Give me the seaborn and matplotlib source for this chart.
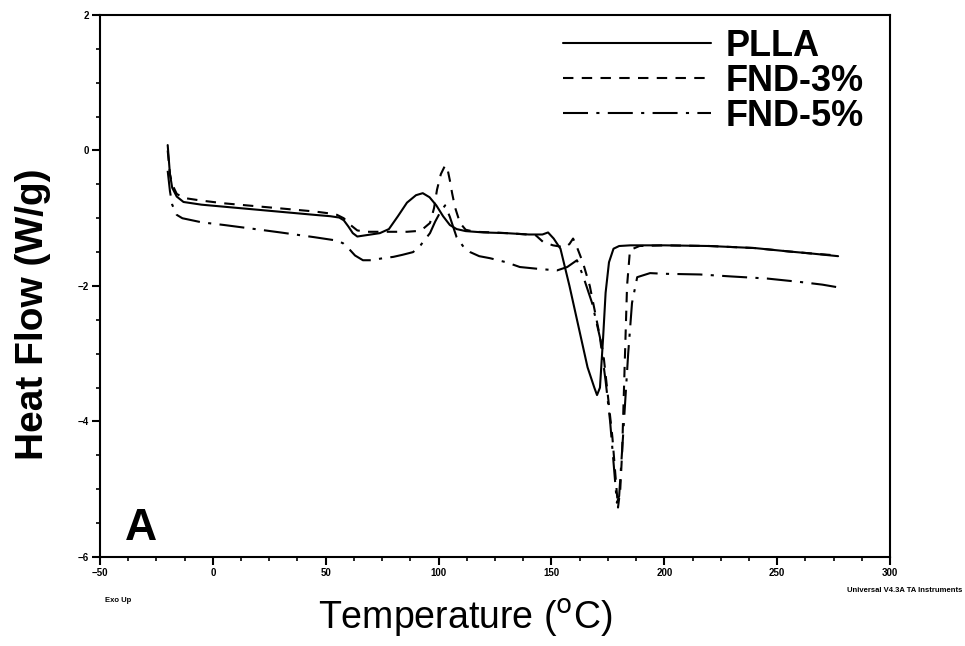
import numpy as np
import pandas as pd
import matplotlib
matplotlib.use("Agg")
import matplotlib.pyplot as plt
from matplotlib.ticker import MultipleLocator
import seaborn as sns

# DSC heat flow traces (temperature in C, heat flow in W/g)
pla_temp = [-20, -19, -18, -16, -13, -5, 5, 15, 25, 35, 45, 52, 56, 58, 60, 62, 64, 68, 74,
            78, 82, 86, 90, 93, 96, 99, 102, 105, 108, 112, 120, 130, 140, 146, 148.5, 151,
            154, 158, 162, 166, 169, 170.2, 171.5, 172.9, 174, 175.5, 177.5, 180, 185, 200,
            220, 240, 255, 265, 277]
pla_flow = [0.08, -0.35, -0.55, -0.68, -0.76, -0.80, -0.83, -0.86, -0.89, -0.92, -0.95, -0.97,
            -0.99, -1.03, -1.12, -1.22, -1.27, -1.25, -1.22, -1.16, -0.97, -0.77, -0.66, -0.63,
            -0.69, -0.81, -0.97, -1.10, -1.16, -1.19, -1.21, -1.22, -1.24, -1.24, -1.21, -1.30,
            -1.45, -2.0, -2.6, -3.2, -3.5, -3.61, -3.5, -2.76, -2.1, -1.65, -1.45, -1.41, -1.40,
            -1.40, -1.41, -1.44, -1.49, -1.52, -1.56]

fnd3_temp = [-20, -19, -18, -16, -13, -5, 5, 15, 25, 35, 45, 52, 55, 58, 61, 64, 68, 74, 80,
             86, 90, 93, 96.2, 98, 99.3, 101, 102.9, 104, 105, 106, 107.3, 109.5, 112, 116, 125,
             135, 143, 146.3, 150.7, 156, 158, 159.6, 161, 164, 167, 170, 173, 177, 179.5,
             180.5, 181.3, 182.6, 183.5, 184.8, 189, 200, 220, 240, 255, 265, 277]
fnd3_flow = [0.0, -0.35, -0.5, -0.64, -0.70, -0.74, -0.78, -0.81, -0.84, -0.87, -0.90, -0.93,
             -0.95, -1.0, -1.1, -1.18, -1.2, -1.2, -1.2, -1.2, -1.19, -1.16, -1.07, -0.85, -0.58,
             -0.35, -0.22, -0.28, -0.44, -0.63, -0.84, -1.07, -1.17, -1.2, -1.21, -1.23, -1.25,
             -1.35, -1.4, -1.43, -1.38, -1.3, -1.4, -1.66, -2.0, -2.5, -3.0, -4.23, -5.27, -5.0,
             -4.47, -3.0, -2.0, -1.47, -1.41, -1.40, -1.41, -1.44, -1.49, -1.52, -1.55]

fnd5_temp = [-20, -19, -18, -16, -13.5, -5, 5, 16.5, 30, 45, 55, 57.7, 60.8, 63, 66.5, 70,
             75.4, 80, 84, 88.7, 92, 96.2, 98.5, 100.6, 102.9, 105, 108, 111, 114, 118, 122.8,
             130, 136, 145, 152.5, 157, 161.3, 164, 168, 171.5, 174, 176, 179, 180, 181.7, 184,
             185.7, 188, 193.7, 200, 215.8, 230, 245.5, 260, 270, 277]
fnd5_flow = [-0.3, -0.6, -0.8, -0.95, -1.0, -1.06, -1.10, -1.15, -1.21, -1.28, -1.33, -1.37,
             -1.47, -1.55, -1.62, -1.62, -1.59, -1.57, -1.54, -1.5, -1.4, -1.22, -1.05, -0.92,
             -0.81, -0.98, -1.28, -1.42, -1.5, -1.56, -1.59, -1.65, -1.72, -1.75, -1.77, -1.72,
             -1.62, -1.85, -2.25, -2.76, -3.4, -4.0, -5.2, -5.1, -4.23, -3.0, -2.25, -1.87,
             -1.81, -1.82, -1.83, -1.86, -1.89, -1.94, -1.98, -2.02]

series_names = ["PLLA", "FND-3%", "FND-5%"]
series_dashes = [None, (5, 4), (12, 4, 1.5, 4)]

x_ticks = [-50, 0, 50, 100, 150, 200, 250, 300]
y_ticks = [2, 0, -2, -4, -6]


def main():
    sns.set_style("white")
    plt.rcParams["font.family"] = ["Liberation Sans", "DejaVu Sans"]
    plt.rcParams["text.color"] = "black"
    plt.rcParams["axes.labelcolor"] = "black"
    plt.rcParams["xtick.color"] = "black"
    plt.rcParams["ytick.color"] = "black"

    fig = plt.figure(figsize=(9.65, 6.46), dpi=100)
    ax = fig.add_axes([0.1036, 0.1378, 0.8187, 0.839])

    traces = [(pla_temp, pla_flow), (fnd3_temp, fnd3_flow), (fnd5_temp, fnd5_flow)]
    for (temp, flow), name, dash in zip(traces, series_names, series_dashes):
        df = pd.DataFrame({"temp": temp, "flow": flow})
        sns.lineplot(data=df, x="temp", y="flow", ax=ax, color="black", lw=1.5,
                     sort=False, estimator=None, label=name)
        if dash is not None:
            ax.lines[-1].set_dashes(dash)

    ax.set_xlim(-50, 300)
    ax.set_ylim(-6, 2)
    ax.set_xticks(x_ticks)
    ax.set_yticks(y_ticks)
    ax.xaxis.set_minor_locator(MultipleLocator(12.5))
    ax.yaxis.set_minor_locator(MultipleLocator(0.5))
    ax.tick_params(which="major", direction="out", length=6, width=1.5,
                   labelsize=7, pad=2, bottom=True, left=True)
    ax.tick_params(which="minor", direction="out", length=3, width=1.2,
                   bottom=True, left=True)
    for lab in ax.get_xticklabels() + ax.get_yticklabels():
        lab.set_fontweight("bold")
    for sp in ax.spines.values():
        sp.set_linewidth(1.5)
        sp.set_color("black")

    ax.set_ylabel("Heat Flow (W/g)", fontsize=28, fontweight="bold", color="black")
    ax.yaxis.set_label_coords(-0.062, 0.447)
    ax.set_xlabel(r"Temperature ($^{\rm o}$C)", fontsize=27, color="black")
    ax.xaxis.set_label_coords(0.462, -0.074)

    handles, labels = ax.get_legend_handles_labels()
    leg = ax.legend(handles, labels, loc="upper right", bbox_to_anchor=(0.967, 0.975),
                    frameon=False, prop={"weight": "bold", "size": 26},
                    handlelength=4.1, handletextpad=0.4, labelspacing=0.0,
                    borderpad=0, borderaxespad=0)
    for t in leg.get_texts():
        t.set_color("black")

    ax.text(-39, -5.75, "A", fontsize=32, fontweight="bold", color="black")

    fig.text(105 / 965, 1 - 602 / 646, "Exo Up", fontsize=5.5, fontweight="bold")
    fig.text(962 / 965, 1 - 592 / 646, "Universal V4.3A TA Instruments",
             fontsize=5.5, fontweight="bold", ha="right")

    fig.savefig("out.png", dpi=100)
    plt.close(fig)


if __name__ == "__main__":
    main()
